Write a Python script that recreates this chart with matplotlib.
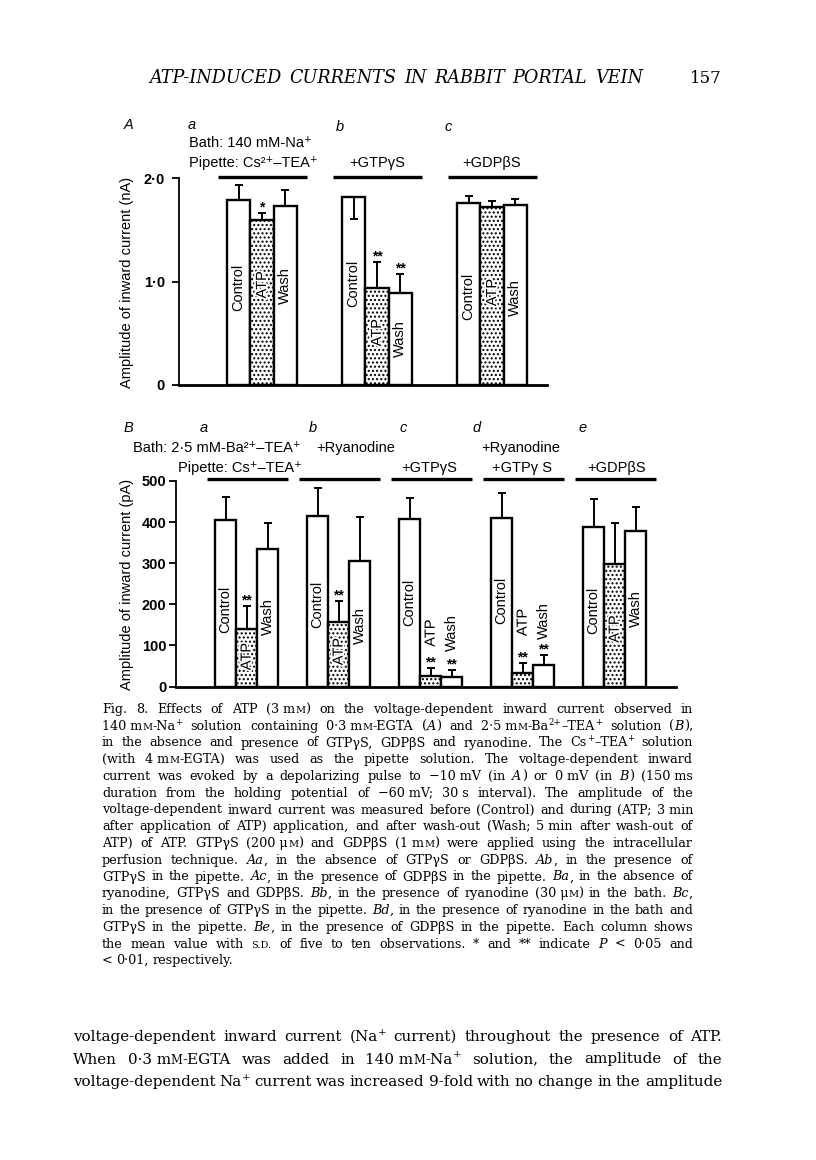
import re
import matplotlib
matplotlib.use('Agg')
import matplotlib.pyplot as plt
import matplotlib.patheffects as pe

W, H = 816, 1160
SANS = ['Liberation Sans', 'DejaVu Sans']
SERIF = ['DejaVu Serif']

# panel A: 140 mM-Na+ with 0.3 mM-EGTA, amplitude in nA (groups a, b, c)
A_control = [1.79, 1.82, 1.76]
A_atp = [1.59, 0.94, 1.72]
A_wash = [1.73, 0.89, 1.74]
A_sd_control = [0.145, 0.22, 0.065]
A_sd_atp = [0.07, 0.25, 0.058]
A_sd_wash = [0.15, 0.18, 0.055]
A_down_control = [False, True, False]   # Ab control s.d. drawn downwards
A_sig_atp = ['*', '**', '']
A_sig_wash = ['', '**', '']

# panel B: 2.5 mM-Ba2+-TEA+, amplitude in pA (groups a-e)
B_control = [404, 415, 407, 409, 388]
B_atp = [140, 156, 25, 34, 299]
B_wash = [335, 305, 22, 53, 378]
B_sd_control = [58, 67, 51, 63, 68]
B_sd_atp = [55, 53, 21, 23, 100]
B_sd_wash = [64, 108, 18, 24, 59]
B_sig_atp = ['**', '**', '**', '**', '']
B_sig_wash = ['', '', '**', '**', '']

conditions = ['Control', 'ATP', 'Wash']

# where the rotated labels sit inside each bar (data units)
A_lab_y = [[0.945, 0.968, 0.958], [0.984, 0.506, 0.45], [0.855, 0.894, 0.848]]
B_lab_y = [[187, 73, 169], [201, 85, 148], [205, 130, 132], [209, 156, 160], [185, 140, 189]]


def px(x, y):
    return x / W, 1 - y / H


fig = plt.figure(figsize=(W / 100, H / 100), dpi=100)
fig.patch.set_facecolor('white')
renderer = fig.canvas.get_renderer()


def panel(ax, series, sds, downs, sigs, lab_y, first, step, xmax, ymax, line_y):
    n = len(series[0])
    for k in range(3):
        xs = [first + step * g + k + 0.5 for g in range(n)]
        ax.bar(xs, series[k], width=1, facecolor='white', edgecolor='black',
               linewidth=1.7, hatch='....' if k == 1 else None, zorder=2)
        lo = [sds[k][g] if downs[k][g] else 0 for g in range(n)]
        hi = [0 if downs[k][g] else sds[k][g] for g in range(n)]
        ax.errorbar(xs, series[k], yerr=[lo, hi], fmt='none', ecolor='black',
                    elinewidth=1.4, capsize=3, capthick=1.4, zorder=3)
        for g in range(n):
            if sigs[k][g]:
                ax.annotate(sigs[k][g], (xs[g], series[k][g] + hi[g]), xytext=(0, 1),
                            textcoords='offset points', ha='center', va='baseline',
                            fontsize=10, fontweight='bold', family=SANS)
            effects = [pe.withStroke(linewidth=2.5, foreground='white')] if k == 1 else None
            ax.text(xs[g], lab_y[g][k], conditions[k], rotation=90, ha='center',
                    va='center', fontsize=10.5, family=SANS, zorder=4,
                    path_effects=effects)
    for g in range(n):
        s = first + step * g
        ax.plot([s - 0.4, s + 3.45], [line_y, line_y], color='black', lw=2.4,
                clip_on=False, solid_capstyle='butt')
    ax.set_xlim(0, xmax)
    ax.set_ylim(0, ymax)
    ax.set_xticks([])
    for side in ['top', 'right']:
        ax.spines[side].set_visible(False)
    ax.spines['bottom'].set_linewidth(2.0)
    ax.spines['left'].set_linewidth(1.3)
    ax.tick_params(axis='y', direction='out', length=5, width=1.3, labelsize=10.5)


# ---- panel A ----
axA = fig.add_axes([179 / W, 1 - 385 / H, 368 / W, 207 / H])
panel(axA, [A_control, A_atp, A_wash], [A_sd_control, A_sd_atp, A_sd_wash],
      [A_down_control, [False] * 3, [False] * 3], [[''] * 3, A_sig_atp, A_sig_wash],
      A_lab_y, 2.06, 4.94, 15.8, 2.0, 2.01)
axA.set_yticks([0, 1, 2])
axA.set_yticklabels(['0', '1·0', '2·0'], family=SANS, fontweight='bold')
axA.tick_params(axis='y', pad=5)

# ---- panel B ----
axB = fig.add_axes([176 / W, 1 - 686.5 / H, 500 / W, 205.5 / H])
panel(axB, [B_control, B_atp, B_wash], [B_sd_control, B_sd_atp, B_sd_wash],
      [[False] * 5] * 3, [[''] * 5, B_sig_atp, B_sig_wash],
      B_lab_y, 1.86, 4.38, 23.8, 500, 505)
axB.set_yticks([0, 100, 200, 300, 400, 500])
axB.set_yticklabels(['0', '100', '200', '300', '400', '500'], family=SANS, fontweight='bold')
axB.tick_params(axis='y', pad=2)


# panel headings
def label(x, y, s, ha='left', style='normal', size=10.5):
    fig.text(*px(x, y), s, ha=ha, va='center', fontsize=size, fontstyle=style, family=SANS)


label(124, 125, 'A', style='italic')
label(192, 125, 'a', ha='center', style='italic')
label(340, 127, 'b', ha='center', style='italic')
label(448, 127, 'c', ha='center', style='italic')
label(189, 143, 'Bath: 140 mM-Na⁺')
label(189, 163, 'Pipette: Cs²⁺–TEA⁺')
label(377, 163, '+GTPγS', ha='center')
label(492, 163, '+GDPβS', ha='center')

label(124, 428, 'B', style='italic')
label(204, 428, 'a', ha='center', style='italic')
label(313, 428, 'b', ha='center', style='italic')
label(403, 428, 'c', ha='center', style='italic')
label(477, 428, 'd', ha='center', style='italic')
label(583, 428, 'e', ha='center', style='italic')
label(133, 448, 'Bath: 2·5 mM-Ba²⁺–TEA⁺')
label(316, 448, '+Ryanodine')
label(481, 448, '+Ryanodine')
label(178, 468, 'Pipette: Cs⁺–TEA⁺')
label(401, 468, '+GTPγS')
label(492, 468, '+GTPγ S')
label(587, 468, '+GDPβS')

fig.text(*px(127, 282), 'Amplitude of inward current (nA)', rotation=90, ha='center',
         va='center', fontsize=10.5, family=SANS)
fig.text(*px(127, 584), 'Amplitude of inward current (pA)', rotation=90, ha='center',
         va='center', fontsize=10.5, family=SANS)

# ---- page text (justified lines) ----
TOKEN = re.compile(r'\{([_^~])([^}]*)\}|([^{]+)')


def put_line(line, x0, x1, y, size, style='normal', justify=True):
    em = size * 100 / 72
    words = []
    for word in line.split(' '):
        parts, width = [], 0
        for m in TOKEN.finditer(word):
            kind, s = (m.group(1), m.group(2)) if m.group(3) is None else ('', m.group(3))
            s = s.replace('`', ' ')
            kw = dict(fontsize=size, fontstyle=style, family=SERIF, ha='left', va='baseline')
            dy = 0
            if kind == '_':
                kw['fontstyle'] = 'italic'
            elif kind == '^':
                kw['fontsize'] = size * 0.68
                dy = 0.4 * em
            elif kind == '~':
                kw['fontsize'] = size * 0.76
            t = fig.text(0, 0, s, **kw)
            w = t.get_window_extent(renderer).width
            parts.append((t, width, dy))
            width += w
        words.append((parts, width))
    total = sum(w for _, w in words)
    gap = (x1 - x0 - total) / (len(words) - 1) if justify and len(words) > 1 else 0.3 * em
    x = x0
    for parts, w in words:
        for t, off, dy in parts:
            t.set_position(px(x + off, y - dy))
        x += w + gap


put_line('ATP-INDUCED CURRENTS IN RABBIT PORTAL VEIN', 149, 643, 83, 12.7, style='italic')
fig.text(*px(722, 83), '157', ha='right', va='baseline', fontsize=12, family=SERIF)

caption = [
    'Fig. 8. Effects of ATP (3`m{~M}) on the voltage-dependent inward current observed in',
    '140`m{~M}-Na{^+} solution containing 0·3`m{~M}-EGTA ({_A}) and 2·5`m{~M}-Ba{^2+}–TEA{^+} solution ({_B}),',
    'in the absence and presence of GTPγS, GDPβS and ryanodine. The Cs{^+}–TEA{^+} solution',
    '(with 4`m{~M}-EGTA) was used as the pipette solution. The voltage-dependent inward',
    'current was evoked by a depolarizing pulse to −10`mV (in {_A}) or 0`mV (in {_B}) (150`ms',
    'duration from the holding potential of −60`mV; 30`s interval). The amplitude of the',
    'voltage-dependent inward current was measured before (Control) and during (ATP; 3`min',
    'after application of ATP) application, and after wash-out (Wash; 5`min after wash-out of',
    'ATP) of ATP. GTPγS (200`μ{~M}) and GDPβS (1`m{~M}) were applied using the intracellular',
    'perfusion technique. {_Aa}, in the absence of GTPγS or GDPβS. {_Ab}, in the presence of',
    'GTPγS in the pipette. {_Ac}, in the presence of GDPβS in the pipette. {_Ba}, in the absence of',
    'ryanodine, GTPγS and GDPβS. {_Bb}, in the presence of ryanodine (30`μ{~M}) in the bath. {_Bc},',
    'in the presence of GTPγS in the pipette. {_Bd}, in the presence of ryanodine in the bath and',
    'GTPγS in the pipette. {_Be}, in the presence of GDPβS in the pipette. Each column shows',
    'the mean value with {~S.D.} of five to ten observations. * and ** indicate {_P} < 0·05 and',
    '< 0·01, respectively.',
]
for i, line in enumerate(caption):
    put_line(line, 102, 693, 713 + 16.75 * i, 9.2, justify=i < len(caption) - 1)

body = [
    'voltage-dependent inward current (Na{^+} current) throughout the presence of ATP.',
    'When 0·3`m{~M}-EGTA was added in 140`m{~M}-Na{^+} solution, the amplitude of the',
    'voltage-dependent Na{^+} current was increased 9-fold with no change in the amplitude',
]
for i, line in enumerate(body):
    put_line(line, 73, 722, 1041 + 22.5 * i, 10.9)

fig.savefig('out.png', dpi=100, facecolor='white')
